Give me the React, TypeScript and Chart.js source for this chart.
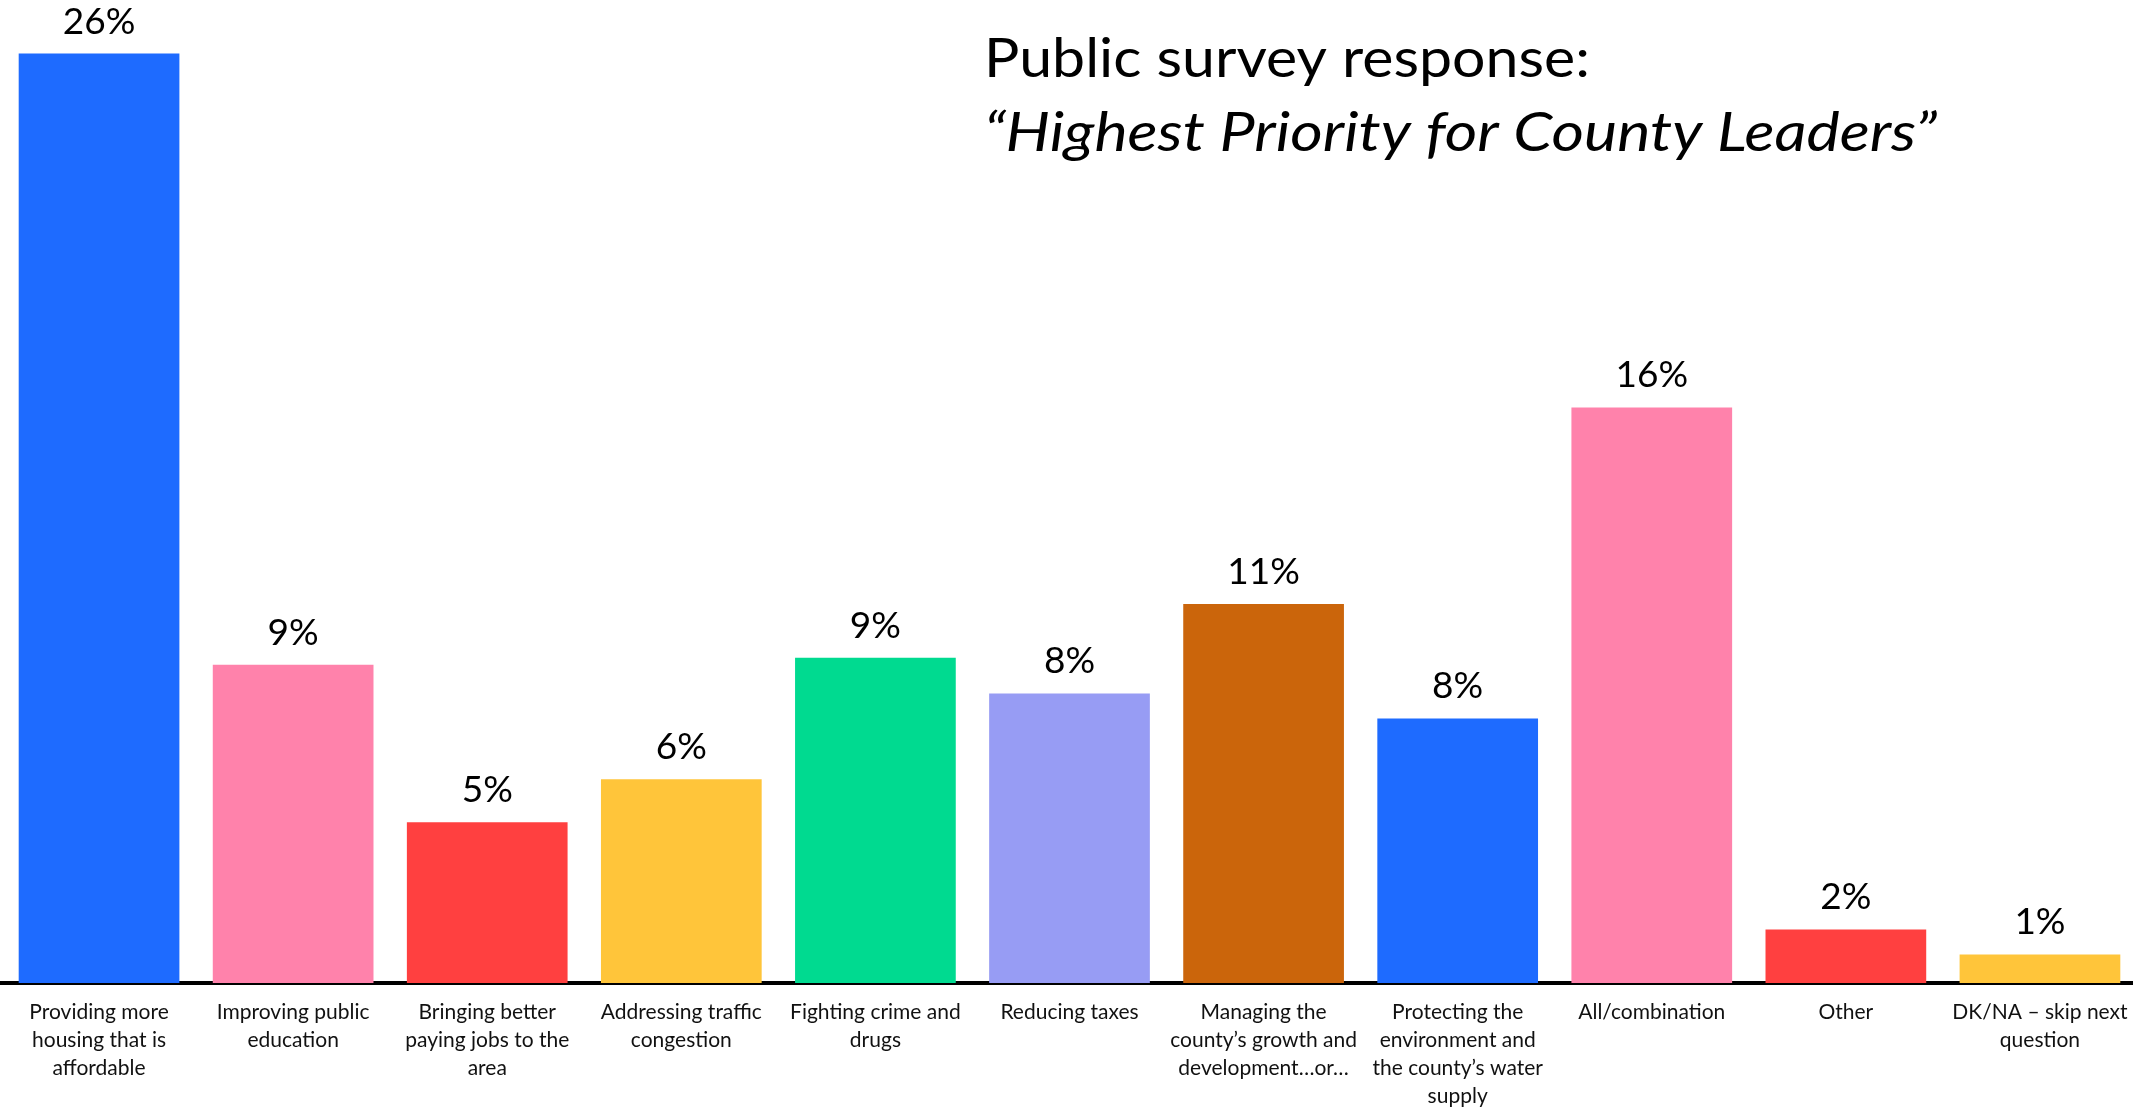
import React, { useEffect, useRef } from 'react';
import { Chart, registerables } from 'chart.js';

Chart.register(...registerables);

const categories: string[][] = [
  ['Providing more', 'housing that is', 'affordable'],
  ['Improving public', 'education'],
  ['Bringing better', 'paying jobs to the', 'area'],
  ['Addressing traffic', 'congestion'],
  ['Fighting crime and', 'drugs'],
  ['Reducing taxes'],
  ['Managing the', 'county’s growth and', 'development…or…'],
  ['Protecting the', 'environment and', 'the county’s water', 'supply'],
  ['All/combination'],
  ['Other'],
  ['DK/NA – skip next', 'question'],
];

const values: number[] = [26.0, 8.9, 4.5, 5.7, 9.1, 8.1, 10.6, 7.4, 16.1, 1.5, 0.8];

const valueLabels: string[] = ['26%', '9%', '5%', '6%', '9%', '8%', '11%', '8%', '16%', '2%', '1%'];

const barColors: string[] = [
  '#1E6BFF',
  '#FF82AB',
  '#FF4040',
  '#FFC53A',
  '#00DA90',
  '#979CF4',
  '#CB650B',
  '#1E6BFF',
  '#FF82AB',
  '#FF4040',
  '#FFC53A',
];

const titleLines: string[] = ['Public survey response:', '“Highest Priority for County Leaders”'];

const valueLabelPlugin = {
  id: 'valueLabelPlugin',
  afterDatasetsDraw(chart: any) {
    const ctx = chart.ctx;
    const meta = chart.getDatasetMeta(0);
    ctx.save();
    ctx.font = '37px Lato';
    ctx.fillStyle = '#000';
    ctx.textAlign = 'center';
    ctx.textBaseline = 'alphabetic';
    meta.data.forEach((el: any, i: number) => {
      ctx.fillText(valueLabels[i], el.x, el.y - 20);
    });
    ctx.restore();
  },
};

const titlePlugin = {
  id: 'titlePlugin',
  afterDraw(chart: any) {
    const ctx = chart.ctx;
    const specs = [
      { text: titleLines[0], font: '54px Lato', x: 984, y: 77, w: 606 },
      { text: titleLines[1], font: 'italic 54px Lato', x: 984, y: 151, w: 953 },
    ];
    specs.forEach((s) => {
      ctx.save();
      ctx.font = s.font;
      ctx.fillStyle = '#000';
      ctx.textAlign = 'left';
      ctx.textBaseline = 'alphabetic';
      const m = ctx.measureText(s.text).width;
      const k = m > 0 ? s.w / m : 1;
      ctx.translate(s.x, s.y);
      ctx.scale(k, 1);
      ctx.fillText(s.text, 0, 0);
      ctx.restore();
    });
  },
};

export default function App() {
  const canvasRef = useRef<HTMLCanvasElement | null>(null);

  useEffect(() => {
    if (!canvasRef.current) return;
    const chart = new Chart(canvasRef.current, {
      type: 'bar',
      data: {
        labels: categories,
        datasets: [
          {
            data: values,
            backgroundColor: barColors,
            borderWidth: 0,
            categoryPercentage: 1,
            barPercentage: 0.828,
          },
        ],
      },
      options: {
        responsive: false,
        animation: false,
        layout: { padding: { left: 2, right: 0, top: 0, bottom: 0 } },
        plugins: {
          legend: { display: false },
          title: { display: false },
          tooltip: { enabled: false },
        },
        scales: {
          x: {
            z: 1,
            grid: { display: false, drawTicks: false },
            border: { display: true, width: 4, color: '#000' },
            ticks: {
              autoSkip: false,
              maxRotation: 0,
              minRotation: 0,
              padding: 15,
              color: '#111',
              font: { family: 'Lato', size: 21, lineHeight: '28px' },
            },
            afterFit: (scale: any) => {
              scale.height = 126;
              scale.paddingLeft = 0;
              scale.paddingRight = 0;
            },
          },
          y: {
            display: false,
            min: 0,
            max: 27.5,
          },
        },
      },
      plugins: [valueLabelPlugin, titlePlugin],
    });
    return () => chart.destroy();
  }, []);

  return (
    <div
      style={{
        position: 'absolute',
        left: 0,
        top: 0,
        width: 2133,
        height: 1109,
        overflow: 'hidden',
        background: '#fff',
      }}
    >
      <canvas ref={canvasRef} width={2137} height={1109} style={{ display: 'block' }} />
    </div>
  );
}
